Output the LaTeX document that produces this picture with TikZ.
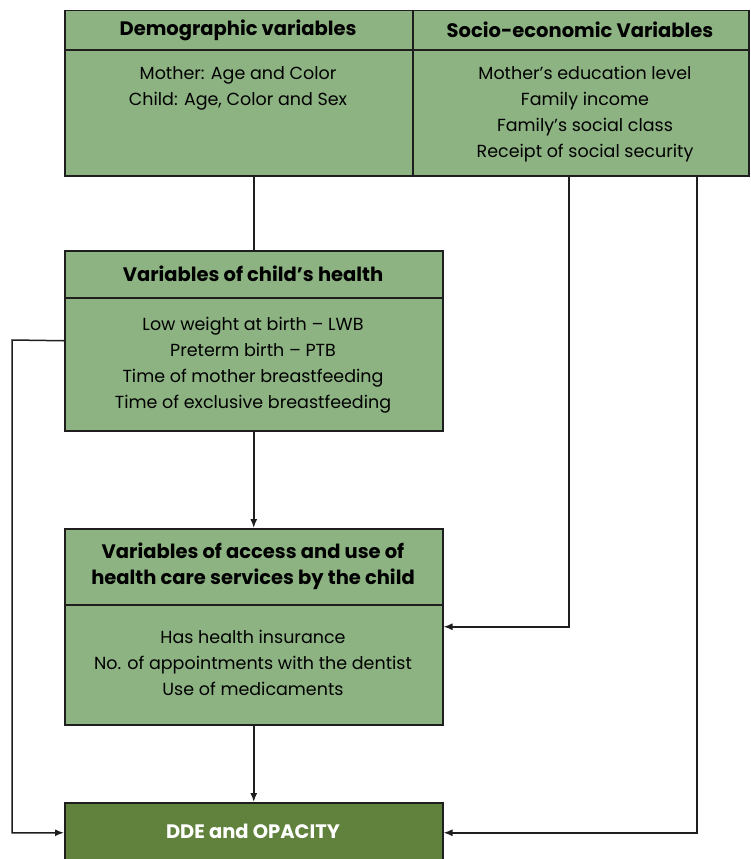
\documentclass[tikz,border=0pt]{standalone}
\usepackage{fontspec}
\setmainfont{Poppins}
\usepackage{tikz}
\usetikzlibrary{calc,arrows.meta}
\definecolor{boxgreen}{RGB}{141,179,130}
\definecolor{darkgreen}{RGB}{96,130,60}
\definecolor{edge}{RGB}{30,30,30}
\tikzset{
  >={Latex[length=9pt,width=7pt]},
}
\tikzstyle{box}=[draw=edge,fill=boxgreen,line width=1.5pt,anchor=north west,inner sep=0pt]
\tikzstyle{head}=[font=\fontsize{19.5}{26}\selectfont\bfseries,align=center]
\tikzstyle{body}=[font=\fontsize{17.5}{26}\selectfont,align=center]
\tikzstyle{link}=[draw=edge,line width=1.5pt]

\begin{document}
\begin{tikzpicture}[x=1pt,y=-1pt]
    \useasboundingbox (0,0) rectangle (750,859);
    % top boxes
    \node[box,minimum width=348pt,minimum height=165pt] (demo) at (64,10) {};
    \node[box,minimum width=336pt,minimum height=165pt] (socio) at (412,10) {};
    \draw[link] (64,50)--(748,50);
    \node[head] at (238,30) {Demographic variables};
    \node[head] at (580,30) {Socio-economic Variables};
    \node[body,anchor=north] at (238,63) {Mother: Age and Color\\Child: Age, Color and Sex};
    \node[body,anchor=north] at (585,63) {Mother’s education level\\Family income\\Family’s social class\\Receipt of social security};
    % child health
    \node[box,minimum width=378pt,minimum height=180pt] (health) at (64,250) {};
    \draw[link] (64,298)--(442,298);
    \node[head] at (253,274) {Variables of child’s health};
    \node[body,anchor=north] at (253,314) {Low weight at birth -- LWB\\Preterm birth -- PTB\\Time of mother breastfeeding\\Time of exclusive breastfeeding};
    % access
    \node[box,minimum width=378pt,minimum height=196pt] (access) at (64,528) {};
    \draw[link] (64,605)--(442,605);
    \node[head] at (253,566) {Variables of access and use of\\health care services by the child};
    \node[body,anchor=north] at (253,627) {Has health insurance\\No. of appointments with the dentist\\Use of medicaments};
    % outcome
    \node[box,fill=darkgreen,minimum width=378pt,minimum height=60pt] (dde) at (64,802) {};
    \node[head,text=white] at (253,831) {DDE and OPACITY};
    % connectors
    \coordinate (s1) at (569,175);
    \coordinate (s2) at (697,175);
    \coordinate (l1) at (12,340);
    \draw[link] (health.north) -- (health.north |- demo.south);
    \draw[link,->] (health.south) -- (access.north);
    \draw[link,->] (access.south) -- (dde.north);
    \draw[link,->] (health.west) -- (l1) |- (dde.west);
    \draw[link,->] (s1) |- (access.east);
    \draw[link,->] (s2) |- (dde.east);
  \end{tikzpicture}
\end{document}
